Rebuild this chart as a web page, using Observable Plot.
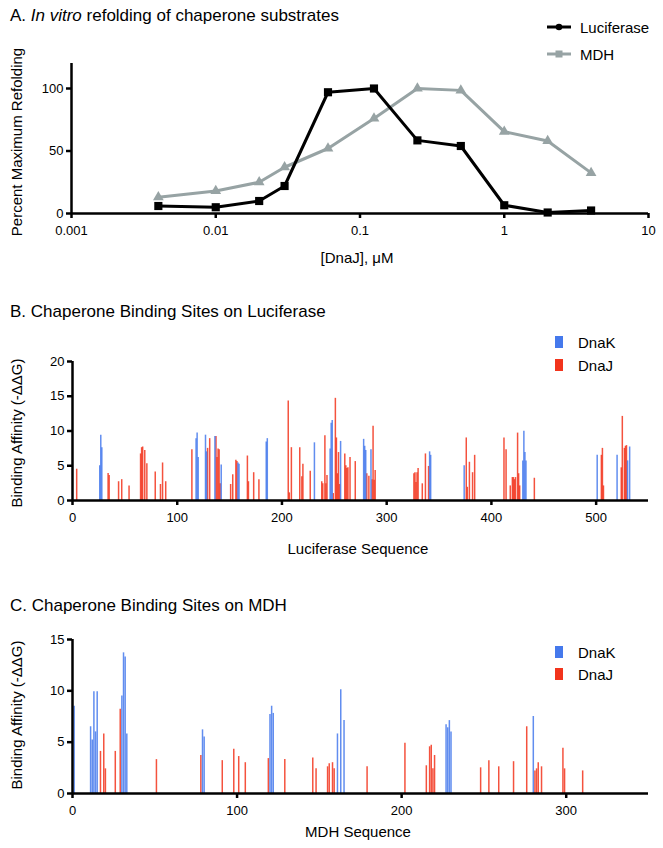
<!DOCTYPE html>
<html><head><meta charset="utf-8">
<script src="https://cdn.jsdelivr.net/npm/d3@7"></script>
<script src="https://cdn.jsdelivr.net/npm/@observablehq/plot@0.6"></script>
<style>
body{margin:0;background:#fff;}
#root{position:relative;width:663px;height:848px;overflow:hidden;font-family:"Liberation Sans",Arial,Helvetica,sans-serif;color:#000;background:#fff;}
.t{position:absolute;white-space:nowrap;line-height:1;}
#root svg.p{position:absolute;left:0;}
</style></head><body><div id="root"></div>
<script>
// ---- Panel A data ----
const concentrations = [0.004, 0.01, 0.02, 0.03, 0.06, 0.125, 0.25, 0.5, 1, 2, 4];
const luciferaseRefolding = [6, 5, 10, 22, 97, 100, 58.5, 54, 6.6, 0.8, 2.4];
const mdhRefolding = [13, 18, 25, 37, 52, 76, 100, 98.5, 65.5, 58, 32.5];
const xTicksA = [0.001, 0.01, 0.1, 1, 10];
const yTicksA = [0, 50, 100];

// ---- Panel B data (Luciferase) ----
const lucDnaKResidue = [26,27,28,118,119,120,127,128,136,142,158,159,185,186,231,246,247,248,256,278,279,280,285,341,342,374,430,431,432,433,501,520,530,532];
const lucDnaKAffinity = [5.0,9.4,7.6,8.9,9.7,6.2,9.4,7.0,9.2,5.1,5.4,5.2,8.4,8.9,8.3,7.4,11.1,11.5,8.5,8.8,7.8,7.2,7.3,7.0,6.5,5.0,5.7,9.95,6.9,5.7,6.5,6.5,5.7,7.7];
const lucDnaJResidue = [4,34,35,44,47,54,65,66,67,69,71,79,84,86,89,114,129,131,137,138,139,140,141,151,153,156,157,167,168,173,178,206,207,209,217,219,220,227,238,239,241,242,243,249,251,252,253,254,255,260,261,262,263,265,270,281,283,286,287,288,289,326,327,328,329,330,334,337,340,376,377,379,382,384,412,414,418,420,421,422,423,425,426,427,441,505,506,507,524,525,527,528,529];
const lucDnaJAffinity = [4.5,3.9,3.6,2.7,3.0,2.1,6.7,7.6,7.7,7.2,5.3,4.1,2.3,5.4,2.7,7.3,7.5,8.9,9.2,6.2,7.4,7.3,2.4,2.3,3.7,5.8,5.6,6.4,2.7,4.0,3.0,14.3,1.1,7.6,7.6,3.4,5.2,4.2,2.7,2.4,9.3,2.4,3.6,1.0,14.7,9.0,3.85,6.9,2.3,6.7,5.0,4.6,4.7,6.2,5.6,3.85,3.5,3.0,10.7,2.9,4.3,3.85,4.0,2.6,4.0,4.6,2.4,6.7,4.9,9.0,1.9,5.5,4.0,6.5,9.0,7.3,2.1,3.3,3.3,3.0,3.3,9.7,3.85,2.1,3.2,6.5,7.5,2.1,4.7,12.1,7.5,7.8,7.9];
const xTicksB = [0, 100, 200, 300, 400, 500];
const yTicksB = [0, 5, 10, 15, 20];

// ---- Panel C data (MDH) ----
const mdhDnaKResidue = [1,11,12,13,14,15,30,31,32,33,79,80,120,121,122,161,163,165,227,228,229,230,280];
const mdhDnaKAffinity = [8.5,6.5,5.2,9.9,6.0,9.9,9.5,13.7,13.3,5.8,6.2,5.5,7.7,8.5,7.8,5.8,10.1,7.1,6.7,6.4,7.1,6.0,7.5];
const mdhDnaJResidue = [17,19,20,26,29,51,78,91,98,101,105,119,129,146,148,155,156,158,159,179,202,215,217,218,219,220,248,253,259,268,276,281,282,283,285,298,299,310];
const mdhDnaJAffinity = [4.1,5.8,2.4,4.1,8.2,3.3,3.7,3.2,4.3,3.6,3.0,3.4,3.3,3.45,2.4,2.6,2.9,3.0,2.4,2.6,4.9,2.7,4.55,4.7,2.4,3.7,2.5,3.2,2.6,3.1,6.5,2.2,2.4,3.0,2.6,4.4,2.4,2.2];
const xTicksC = [0, 100, 200, 300];
const yTicksC = [0, 5, 10, 15];

const FONT = '"Liberation Sans", Arial, Helvetica, sans-serif';
const BLACK = "#000";
const GRAY = "#97a3a4";
const BLUE = "#4579ec";
const RED = "#f2341c";

const root = document.getElementById("root");
const zip = (xs, ys) => xs.map((x, i) => ({x, y: ys[i]}));
const style = {fontFamily: FONT, fontSize: "13px", color: "#000", background: "transparent", overflow: "visible"};

function place(svg, top) { svg.classList.add("p"); svg.style.top = top + "px"; root.appendChild(svg); }
function text(html, x, y, opts = {}) {
  const d = document.createElement("div");
  d.className = "t";
  d.innerHTML = html;
  d.style.fontSize = (opts.size || 15) + "px";
  d.style.left = x + "px";
  d.style.top = y + "px";
  let tf = opts.anchor === "start" ? "translate(0,-50%)" : "translate(-50%,-50%)";
  if (opts.rotate) tf += " rotate(-90deg)";
  d.style.transform = tf;
  root.appendChild(d);
}
function swatchLine(x, y, color, sym) {
  const s = document.createElementNS("http://www.w3.org/2000/svg", "svg");
  s.setAttribute("width", 30); s.setAttribute("height", 12);
  s.style.position = "absolute"; s.style.left = x + "px"; s.style.top = (y - 6) + "px";
  s.innerHTML = `<line x1="1" x2="25" y1="6" y2="6" stroke="${color}" stroke-width="3"/>` +
    (sym === "circle" ? `<circle cx="13" cy="6" r="3.3" fill="${color}"/>` : `<rect x="9.5" y="2.5" width="7" height="7" fill="${color}"/>`);
  root.appendChild(s);
}
function swatchBox(x, y, color) {
  const d = document.createElement("div");
  d.style.cssText = `position:absolute;left:${x}px;top:${y - 6}px;width:8px;height:12px;background:${color}`;
  root.appendChild(d);
}
const xAxisOpts = {tickSize: 5, strokeWidth: 2.5, tickPadding: 7, label: null};
const yAxisOpts = {tickSize: 5, strokeWidth: 2.5, tickPadding: 3, label: null};

// ---- Panel A ----
const lucData = zip(concentrations, luciferaseRefolding);
const mdhData = zip(concentrations, mdhRefolding);
place(Plot.plot({
  width: 663, height: 270, marginTop: 63, marginBottom: 57, marginLeft: 71, marginRight: 15,
  x: {type: "log", domain: [0.001, 10]},
  y: {domain: [0, 120]},
  style,
  marks: [
    Plot.line(mdhData, {x: "x", y: "y", stroke: GRAY, strokeWidth: 3}),
    Plot.dot(mdhData, {x: "x", y: "y", symbol: "triangle", r: 4, fill: GRAY}),
    Plot.line(lucData, {x: "x", y: "y", stroke: BLACK, strokeWidth: 3}),
    Plot.dot(lucData, {x: "x", y: "y", symbol: "square", r: 4.6, fill: BLACK}),
    Plot.ruleY([0], {strokeWidth: 2.5}),
    Plot.ruleX([0.001], {strokeWidth: 2.5}),
    Plot.axisX({...xAxisOpts, ticks: xTicksA, tickFormat: d3.format("~g")}),
    Plot.axisY({...yAxisOpts, ticks: yTicksA})
  ]
}), 0);
text("A. <i>In vitro</i> refolding of chaperone substrates", 10, 15, {size: 17, anchor: "start"});
swatchLine(546, 27, BLACK, "circle");
text("Luciferase", 580, 27, {anchor: "start"});
swatchLine(546, 54, GRAY, "square");
text("MDH", 580, 54, {anchor: "start"});
text("Percent Maximum Refolding", 16, 142, {rotate: true});
text("[DnaJ], &mu;M", 357, 257);

// ---- Panel B ----
place(Plot.plot({
  width: 663, height: 260, marginTop: 61, marginBottom: 60, marginLeft: 72, marginRight: 15,
  x: {domain: [0, 550]},
  y: {domain: [0, 20]},
  style,
  marks: [
    Plot.ruleX(zip(lucDnaJResidue, lucDnaJAffinity), {x: "x", y: "y", stroke: RED, strokeWidth: 1.5, strokeOpacity: 0.85}),
    Plot.ruleX(zip(lucDnaKResidue, lucDnaKAffinity), {x: "x", y: "y", stroke: BLUE, strokeWidth: 1.5, strokeOpacity: 0.85}),
    Plot.ruleY([0], {strokeWidth: 2.5}),
    Plot.ruleX([0], {strokeWidth: 2.5}),
    Plot.axisX({...xAxisOpts, ticks: xTicksB}),
    Plot.axisY({...yAxisOpts, ticks: yTicksB})
  ]
}), 300);
text("B. Chaperone Binding Sites on Luciferase", 10, 311, {size: 17, anchor: "start"});
swatchBox(555, 342, BLUE);
text("DnaK", 578, 342, {anchor: "start"});
swatchBox(555, 365, RED);
text("DnaJ", 578, 365, {anchor: "start"});
text("Binding Affinity (-&Delta;&Delta;G)", 16, 433, {rotate: true});
text("Luciferase Sequence", 358, 548);

// ---- Panel C ----
place(Plot.plot({
  width: 663, height: 248, marginTop: 39, marginBottom: 55, marginLeft: 72, marginRight: 15,
  x: {domain: [0, 350]},
  y: {domain: [0, 15]},
  style,
  marks: [
    Plot.ruleX(zip(mdhDnaJResidue, mdhDnaJAffinity), {x: "x", y: "y", stroke: RED, strokeWidth: 1.5, strokeOpacity: 0.85}),
    Plot.ruleX(zip(mdhDnaKResidue, mdhDnaKAffinity), {x: "x", y: "y", stroke: BLUE, strokeWidth: 1.5, strokeOpacity: 0.85}),
    Plot.ruleY([0], {strokeWidth: 2.5}),
    Plot.ruleX([0], {strokeWidth: 2.5}),
    Plot.axisX({...xAxisOpts, ticks: xTicksC}),
    Plot.axisY({...yAxisOpts, ticks: yTicksC})
  ]
}), 600);
text("C. Chaperone Binding Sites on MDH", 10, 605, {size: 17, anchor: "start"});
swatchBox(555, 652, BLUE);
text("DnaK", 578, 652, {anchor: "start"});
swatchBox(555, 674, RED);
text("DnaJ", 578, 674, {anchor: "start"});
text("Binding Affinity (-&Delta;&Delta;G)", 16, 715, {rotate: true});
text("MDH Sequence", 358, 831);
</script></body></html>
